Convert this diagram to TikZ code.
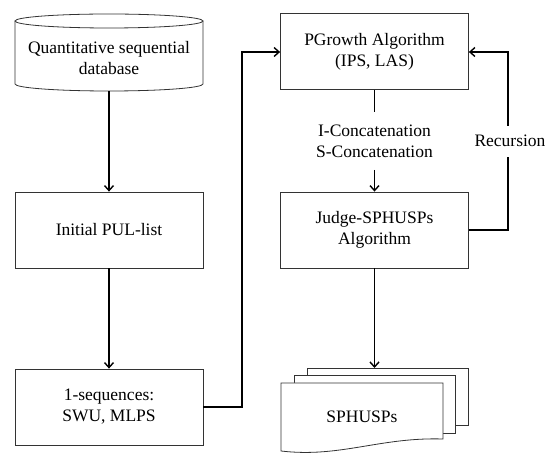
\documentclass[tikz,border=0pt]{standalone}
\usepackage{fontspec}
\setmainfont{Liberation Serif}
\usepackage{tikz}
\usetikzlibrary{arrows.meta}
\usetikzlibrary{positioning,calc}

\begin{document}
\begin{tikzpicture}[
x=1pt,y=1pt,
MyBoxes/.style={draw=black!80,line width=0.8pt,fill=white,minimum width=188pt,minimum height=76pt,inner sep=0pt},
MyArrows/.style={-{Straight Barb[length=5pt,width=9pt,line width=1.4pt]},line width=1.5pt},
MyLines/.style={line width=1.5pt},
every node/.style={font=\fontsize{17.5}{21}\selectfont,align=center}
]
\useasboundingbox (0,0) rectangle (550,-462);

% database cylinder
\draw[draw=black!80,line width=0.8pt,fill=white] (15,-21) -- (15,-84) arc (180:360:94 and 7) -- (203,-21);
\draw[draw=black!80,line width=0.8pt] (109,-21) ellipse (94 and 7);
\node (DB) at (109,-58) {Quantitative sequential\\database};
\coordinate (DBbottom) at (109,-91);

% left column
\node[MyBoxes] (PUL) at (109,-230) {Initial PUL-list};
\node[MyBoxes] (Seq) at (109,-407) {1-sequences:\\SWU, MLPS};

% right column
\node[MyBoxes] (PG) at (374.5,-51.5) {PGrowth Algorithm\\(IPS, LAS)};
\node[MyBoxes] (Judge) at (374.5,-230) {Judge-SPHUSPs\\Algorithm};

% stacked documents
\draw[draw=black!80,line width=0.8pt,fill=white] (307,-368) rectangle (468,-425);
\draw[draw=black!80,line width=0.8pt,fill=white] (294,-375) rectangle (455,-433);
\draw[draw=black!80,line width=0.8pt,fill=white] (281,-383) -- (443,-383) -- (443,-439)
  .. controls (380,-437) and (340,-458) .. (281,-451) -- cycle;
\node (Res) at (362,-417) {SPHUSPs};
\coordinate (Restop) at (374.5,-368);

% connectors
\draw[MyArrows] (DBbottom) -- (PUL.north);
\draw[MyArrows] (PUL.south) -- (Seq.north);
\draw[MyArrows] (Seq.east |- 0,-407) -| (242,-52) -- (PG.west |- 0,-52);
\node (Concat) at (374.5,-141) {I-Concatenation\\S-Concatenation};
\draw[MyLines] (PG.south) -- (374.5,-112);
\draw[MyArrows] (374.5,-170) -- (Judge.north);
\draw[MyArrows] (Judge.south) -- (Restop);

% recursion loop
\node (Rec) at (510,-141) {Recursion};
\draw[MyLines] (Judge.east |- 0,-230) -| (508,-157);
\draw[MyArrows] (508,-126) |- (PG.east |- 0,-52);

\end{tikzpicture}
\end{document}
